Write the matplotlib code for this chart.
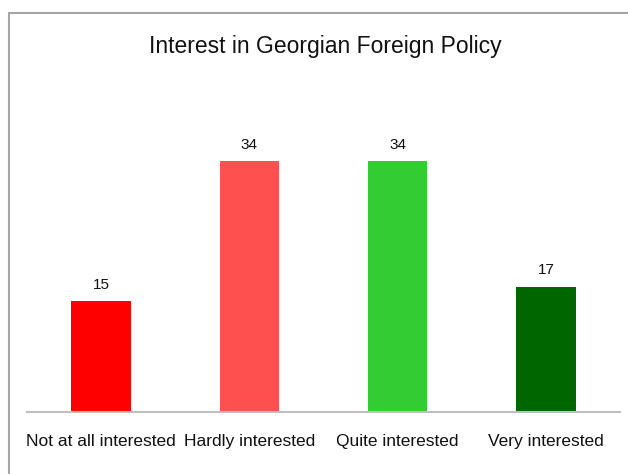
import matplotlib
matplotlib.use("Agg")
from matplotlib import pyplot as plt
from matplotlib.patches import Rectangle

categories = ["Not at all interested", "Hardly interested", "Quite interested", "Very interested"]
values = [15, 34, 34, 17]
bar_colors = ["#FF0000", "#FF5050", "#33CC33", "#006600"]
title = "Interest in Georgian Foreign Policy"

plt.rcParams['font.family'] = ['Liberation Sans', 'DejaVu Sans']

fig = plt.figure(figsize=(6.28, 4.74), dpi=100)

# outer chart frame (right and bottom run off the picture)
fig.patches.append(Rectangle((9/628, -0.1), 1.2, (474-13)/474 + 0.1,
                             transform=fig.transFigure, fill=False,
                             edgecolor="#A6A6A6", linewidth=1.5))

ax = fig.add_axes([27/628, 62/474, 593/628, 295/474])
x = range(len(categories))
bars = ax.bar(x, values, width=0.4, color=bar_colors)

ax.set_xlim(-0.5, 3.5)
ax.set_ylim(0, 40)
ax.set_yticks([])
for side in ["left", "right", "top"]:
    ax.spines[side].set_visible(False)
ax.spines["bottom"].set_color("#BFBFBF")
ax.spines["bottom"].set_linewidth(1.5)

ax.set_xticks(list(x))
ax.set_xticklabels(categories, fontsize=12.5, color="#111111")
ax.tick_params(axis="x", length=0, pad=16)

for b, v in zip(bars, values):
    ax.annotate(str(v), (b.get_x() + b.get_width()/2, v), xytext=(0, 7),
                textcoords="offset points", ha="center", va="bottom",
                fontsize=11, color="#111111")

fig.text(325/628, (474-47)/474, title, ha="center", va="center",
         fontsize=16.5, color="#111111")

fig.savefig("out.png", dpi=100)
